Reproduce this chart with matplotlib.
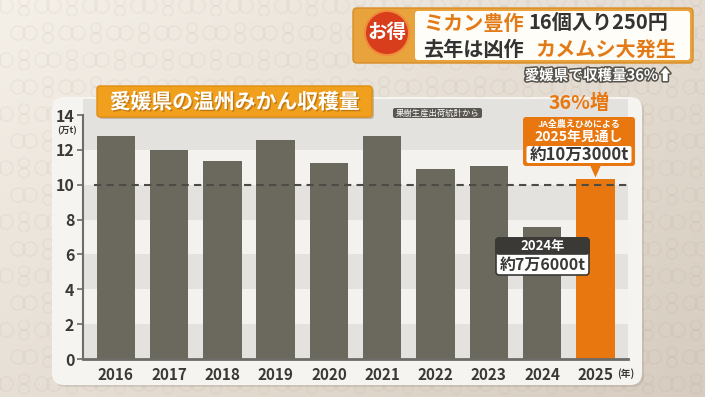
import numpy as np
import matplotlib
matplotlib.use("Agg")
import matplotlib.pyplot as plt
from matplotlib.patches import FancyBboxPatch, Circle, Polygon, Rectangle
import matplotlib.patheffects as pe

plt.rcParams['font.family'] = ['Noto Sans CJK JP', 'DejaVu Sans']

# data (万t)
years = ['2016', '2017', '2018', '2019', '2020', '2021', '2022', '2023', '2024', '2025']
harvest = [12.78, 12.01, 11.35, 12.54, 11.25, 12.78, 10.93, 11.09, 7.6, 10.3]
y_ticks = [0, 2, 4, 6, 8, 10, 12, 14]
ref_level = 10

GREY_BAR = '#6b685d'
ORANGE = '#e8770f'
DARK = '#3a3935'

W, H = 705, 397
fig = plt.figure(figsize=(W / 100, H / 100), dpi=100)

# background layer in pixel coordinates (y down)
bg = fig.add_axes([0, 0, 1, 1], zorder=0)
bg.set_xlim(0, W)
bg.set_ylim(H, 0)
bg.axis('off')

gx = np.linspace(0, 1, 200)
gy = np.linspace(0, 1, 120)
GX, GY = np.meshgrid(gx, gy)
t = np.clip(0.55 * GX + 0.45 * GY, 0, 1)
c0 = np.array([0.96, 0.94, 0.91])
c1 = np.array([0.84, 0.80, 0.75])
grad = c0[None, None, :] * (1 - t[..., None]) + c1[None, None, :] * t[..., None]
bg.imshow(grad, extent=[0, W, H, 0], aspect='auto', zorder=0)

# faint ring pattern
ring = (0.55, 0.45, 0.35, 0.07)
for j in range(16):
    yy = 6 + j * 27
    for i in range(16):
        xx = i * 48 + (j % 2) * 24
        for dx in (-6, 6):
            bg.add_patch(Circle((xx + dx, yy), 7, fill=False, ec=ring, lw=1.0, zorder=1))
        for dy in (-5, 5):
            bg.add_patch(Circle((xx + 24, yy + dy), 5, fill=False, ec=ring, lw=1.0, zorder=1))

# chart panel
bg.add_patch(FancyBboxPatch((54, 99), 590, 288, boxstyle='round,pad=0,rounding_size=12',
                            fc=(0.4, 0.35, 0.3, 0.15), ec='none', zorder=2))
bg.add_patch(FancyBboxPatch((52, 97), 590, 288, boxstyle='round,pad=0,rounding_size=12',
                            fc='#f6f4f0', ec='none', zorder=3))

# main chart
ax = fig.add_axes([82.7 / W, 1 - 359 / H, (628 - 82.7) / W, (359 - 115) / H], zorder=1)
ax.patch.set_visible(False)
x = np.arange(len(years))
colors = [GREY_BAR] * (len(years) - 1) + [ORANGE]
ax.bar(x, harvest, width=0.72, color=colors, zorder=3)

for k, lo in enumerate(y_ticks[:-1]):
    hi = lo + 2 if lo + 2 < 14 else 14.9
    band = ax.axhspan(lo, hi, color='#e4e2de' if k % 2 == 0 else '#f3f2ef', zorder=0, lw=0)
    band.set_clip_on(False)

ax.axhline(ref_level, xmin=0.02, xmax=1, color='#4d4b46', lw=1.5, ls=(0, (3.5, 2.5)), zorder=4)

ax.set_xlim(-0.62, len(years) - 0.39)
ax.set_ylim(0, 14)
ax.set_yticks(y_ticks)
ax.set_yticklabels([str(v) for v in y_ticks], fontsize=11.5, fontweight='bold', color=DARK)
ax.set_xticks(x)
ax.set_xticklabels(years, fontsize=11, fontweight='bold', color=DARK)
ax.tick_params(axis='y', length=4, width=1.2, color='#6e6c66', pad=2)
ax.tick_params(axis='x', length=0, pad=6)
for s in ('top', 'right'):
    ax.spines[s].set_visible(False)
ax.spines['left'].set_color('#6e6c66')
ax.spines['left'].set_linewidth(1.5)
ax.spines['bottom'].set_color('#6e6c66')
ax.spines['bottom'].set_linewidth(2)
ax.spines['left'].set_zorder(5)
ax.spines['bottom'].set_zorder(5)

# foreground layer in pixel coordinates
fg = fig.add_axes([0, 0, 1, 1], zorder=2)
fg.set_xlim(0, W)
fg.set_ylim(H, 0)
fg.axis('off')
fg.patch.set_visible(False)

fg.text(67, 131, '(万t)', fontsize=6.5, fontweight='bold', color=DARK, ha='center', va='center')
fg.text(626, 374, '(年)', fontsize=7, fontweight='bold', color=DARK, ha='center', va='center')

# chart title
fg.add_patch(FancyBboxPatch((99, 88), 275, 31, boxstyle='round,pad=0,rounding_size=3',
                            fc=(0.3, 0.2, 0.1, 0.25), ec='none'))
fg.add_patch(FancyBboxPatch((97, 86), 275, 31, boxstyle='round,pad=0,rounding_size=3',
                            fc='#f0a01d', ec='#e38d10', lw=1))
fg.text(235, 102, '愛媛県の温州みかん収穫量', fontsize=15, fontweight='bold', color='white',
        ha='center', va='center',
        path_effects=[pe.withSimplePatchShadow(offset=(1, -1), shadow_rgbFace='#a0600a', alpha=0.6)])

# source note
fg.add_patch(FancyBboxPatch((393, 108), 89, 10, boxstyle='round,pad=0,rounding_size=2',
                            fc='#5a5650', ec='none'))
fg.text(437.5, 113, '果樹生産出荷統計から', fontsize=6, color='white', ha='center', va='center')

# headline box
fg.add_patch(FancyBboxPatch((353, 8), 340, 55, boxstyle='round,pad=0,rounding_size=4',
                            fc='#e9a33c', ec='#d98d25', lw=1))
fg.add_patch(FancyBboxPatch((415, 11), 275, 49, boxstyle='round,pad=0,rounding_size=3',
                            fc='#fffdf8', ec='none'))
fg.add_patch(Circle((387, 33), 23, fc='#f08a3a', ec='none'))
fg.add_patch(Circle((387, 33), 21, fc='#d83d1c', ec='none'))
fg.text(387, 33, 'お得', fontsize=14, fontweight='bold', color='white', ha='center', va='center')
fg.text(423, 23, 'ミカン豊作', fontsize=14.5, fontweight='bold', color='#e27b17', ha='left', va='center')
fg.text(528, 23, '16個入り250円', fontsize=14.5, fontweight='bold', color='#333333', ha='left', va='center')
fg.text(423, 49, '去年は凶作', fontsize=14.5, fontweight='bold', color='#333333', ha='left', va='center')
fg.text(535, 49, 'カメムシ大発生', fontsize=14.5, fontweight='bold', color='#e27b17', ha='left', va='center')
fg.text(673, 75, '愛媛県で収穫量36%⬆', fontsize=10.5, fontweight='bold', color='white',
        ha='right', va='center',
        path_effects=[pe.withStroke(linewidth=2.2, foreground='#55524c')])

# 2025 callout
bx, by = ax.transData.transform((x[-1], harvest[-1]))
tip_x, tip_y = fg.transData.inverted().transform((bx, by))
fg.text(579, 103, '36%増', fontsize=14, fontweight='bold', color=ORANGE, ha='center', va='center')
fg.add_patch(Polygon([(tip_x - 6, 164), (tip_x + 6, 164), (tip_x, tip_y - 2)], closed=True,
                     fc=ORANGE, ec='none'))
fg.add_patch(FancyBboxPatch((523, 117), 112, 49, boxstyle='round,pad=0,rounding_size=3',
                            fc=ORANGE, ec='none'))
fg.add_patch(FancyBboxPatch((526.5, 146), 105, 17, boxstyle='round,pad=0,rounding_size=2',
                            fc='white', ec='none'))
fg.text(579, 124, 'JA全農えひめによる', fontsize=6.5, fontweight='bold', color='white', ha='center', va='center')
fg.text(579, 136.5, '2025年見通し', fontsize=10, fontweight='bold', color='white', ha='center', va='center')
fg.text(579, 155, '約10万3000t', fontsize=12, fontweight='bold', color=DARK, ha='center', va='center')

# 2024 label
fg.add_patch(FancyBboxPatch((496, 238), 93, 37, boxstyle='round,pad=0,rounding_size=3',
                            fc='white', ec=DARK, lw=1.2))
fg.add_patch(FancyBboxPatch((496, 238), 93, 16, boxstyle='round,pad=0,rounding_size=3',
                            fc=DARK, ec=DARK, lw=1.2))
fg.add_patch(Rectangle((496, 248), 93, 6, fc=DARK, ec='none'))
fg.text(542.5, 246, '2024年', fontsize=9.5, fontweight='bold', color='white', ha='center', va='center')
fg.text(542.5, 264.5, '約7万6000t', fontsize=11.5, fontweight='bold', color=DARK, ha='center', va='center')

fig.savefig('out.png', dpi=100)
